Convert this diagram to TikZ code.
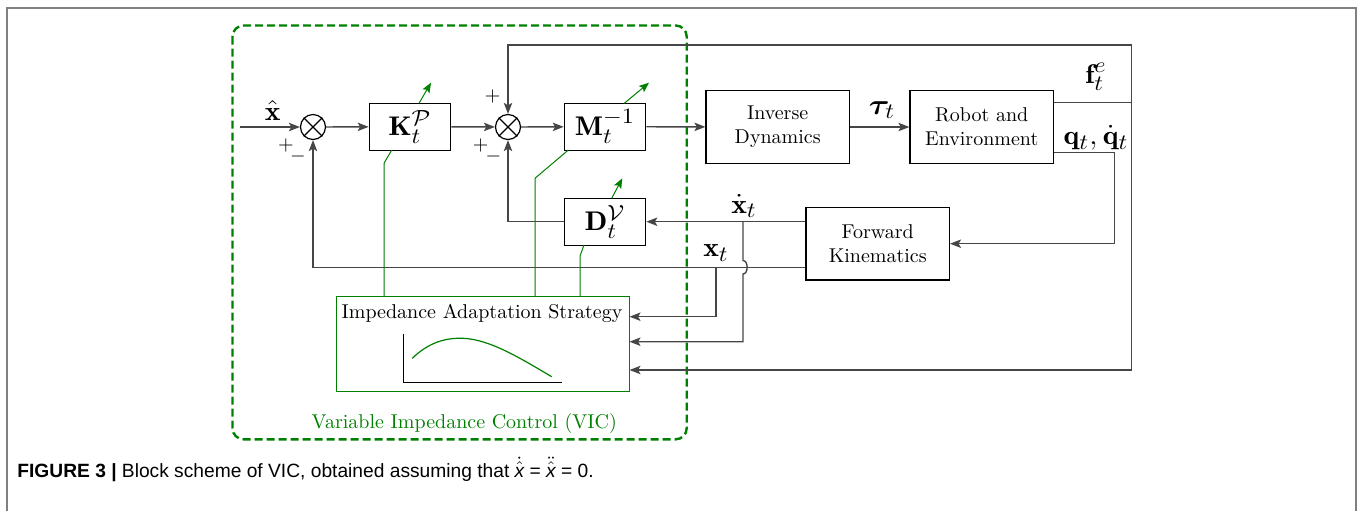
\documentclass[tikz,border=0pt]{standalone}
\usepackage{amsmath,bm,graphicx}
\usepackage{fontspec}
\newfontfamily\capfont{Liberation Sans}
\usetikzlibrary{arrows.meta,calc}
\definecolor{vgreen}{RGB}{0,128,0}
\definecolor{lgray}{RGB}{70,70,70}
\definecolor{framegray}{RGB}{128,128,128}
\DeclareMathSizes{13.5}{13.5}{10.5}{8}
\newcommand{\hstr}[1]{\scalebox{1.1}[1]{#1}}
\newcommand{\capx}{\text{\capfont\itshape x}}
\begin{document}
\begin{tikzpicture}[x=0.5pt,y=-0.5pt,
  blk/.style={draw=black, line width=0.6pt, inner sep=0pt, align=center, font=\fontsize{10}{12}\selectfont},
  mblk/.style={blk, font=\fontsize{13.5}{15}\selectfont},
  sumnode/.style={draw=black, circle, minimum size=12.5pt, inner sep=0pt, line width=0.6pt},
  conn/.style={draw=lgray, line width=0.7pt},
  arr/.style={conn, -{Stealth[length=5.5pt,width=4.2pt,inset=1.2pt]}},
  gline/.style={draw=vgreen, line width=0.5pt},
  garr/.style={gline, -{Stealth[length=5pt,width=4pt,inset=1pt]}},
  lbl/.style={inner sep=0pt, font=\fontsize{13.5}{15}\selectfont},
  sgn/.style={inner sep=0pt, font=\fontsize{10}{12}\selectfont},
  txt/.style={inner sep=0pt, font=\fontsize{10}{12}\selectfont}]
\useasboundingbox (0,0) rectangle (1360,511);
% frame
\draw[framegray, line width=1pt] (7.3,511) -- (7.3,8.3) -- (1356,8.3) -- (1356,511);
% VIC box
\draw[vgreen, line width=1.2pt, dash pattern=on 4pt off 2pt, rounded corners=5.5pt] (232.5,25.5) rectangle (686.7,439.3);
\node[txt, text=vgreen] (vic) at (464.3,423.3) {Variable Impedance Control (VIC)};
% blocks
\node[sumnode] (s1) at (313,127) {};
\node[sumnode] (s2) at (508,127) {};
\draw[line width=0.6pt] (s1.45) -- (s1.225) (s1.135) -- (s1.315);
\draw[line width=0.6pt] (s2.45) -- (s2.225) (s2.135) -- (s2.315);
\node[mblk, minimum width=40.7pt, minimum height=23.4pt] (K) at (410,126.7) {\hstr{$\mathbf{K}_t^{\mathcal{P}}$}};
\node[mblk, minimum width=40.7pt, minimum height=23.4pt] (M) at (605,126.7) {\hstr{$\mathbf{M}_t^{-1}$}};
\node[mblk, minimum width=40.7pt, minimum height=23.4pt] (D) at (605,221.7) {\hstr{$\mathbf{D}_t^{\mathcal{V}}$}};
\node[blk, minimum width=71.7pt, minimum height=36.3pt] (ID) at (777.7,127) {Inverse\\Dynamics};
\node[blk, minimum width=71.7pt, minimum height=36.3pt] (RE) at (981.7,127) {Robot and\\Environment};
\node[blk, minimum width=71.7pt, minimum height=36.3pt] (FK) at (877.7,243.7) {Forward\\Kinematics};
\node[blk, draw=vgreen, line width=0.5pt, minimum width=146.5pt, minimum height=47.9pt] (IAS) at (482.5,344) {};
\node[txt] (iast) at (482,313.3) {Impedance Adaptation Strategy};
% plot in IAS
\draw[black, line width=0.6pt] (403.7,334) -- (403.7,382.3) -- (562.3,382.3);
\draw[vgreen, line width=0.6pt] (412.3,358.3) .. controls (428,343) and (445,337.5) .. (463.3,338.3) .. controls (490,339.5) and (520,358) .. (551.7,376.7);
% coordinates
\coordinate (in) at (240,127);
\coordinate (cTL) at (508,45);
\coordinate (cTR) at (1131.7,45);
\coordinate (fy) at (1131.7,102.7);
\coordinate (cBR) at (1131.7,370);
\coordinate (qR) at (1114.3,152.3);
\coordinate (xd) at (743,221.7);
\coordinate (xl) at (716,267.3);
\coordinate (xb) at (716,316.7);
\coordinate (xdb) at (743,341.7);
% main chain
\draw[arr] (in) -- (s1);
\draw[arr] (s1) -- (K);
\draw[arr] (K) -- (s2);
\draw[arr] (s2) -- (M);
\draw[arr] (M) -- (ID);
\draw[arr] (ID) -- (RE);
% robot outputs
\draw[conn] (RE.east |- fy) -- (fy);
\draw[arr] (cTR) -- (cTL) -- (s2.north);
\draw[arr] (cTR) -- (cBR) -- (IAS.east |- cBR);
\draw[arr] (RE.east |- qR) -- (qR) -- (qR |- FK.east) -- (FK.east);
% feedback
\draw[arr] (FK.west |- D.east) -- (D.east);
\draw[arr] (FK.west |- xl) -- (s1 |- xl) -- (s1.south);
\draw[arr] (D.west) -- (s2 |- D.west) -- (s2.south);
\draw[arr] (xl) -- (xb) -- (IAS.east |- xb);
\draw[arr] (xd) -- (743,260.5) .. controls (748.5,260.5) and (748.5,274) .. (743,274) -- (xdb) -- (IAS.east |- xdb);
% green adaptation arrows
\coordinate (kA) at (431,82.7);
\coordinate (mA) at (649,82.7);
\coordinate (dA) at (622.3,178.3);
\draw[garr] (419,103.3) -- (kA);
\draw[garr] (624.3,103.3) -- (mA);
\draw[garr] (611.7,198.3) -- (dA);
\draw[gline] (391.7,150) -- (384,163.3) -- (384,296);
\draw[gline] (568.3,150) -- (535,178.3) -- (535,296);
\draw[gline] (584,245) -- (580,256) -- (580,296);
% labels
\node[lbl] (lxh) at (272.7,110) {\hstr{$\hat{\mathbf{x}}$}};
\node[sgn] (p1) at (286,145) {$+$};
\node[sgn] (m1) at (298,156.7) {$-$};
\node[sgn] (p2) at (492.7,96.7) {$+$};
\node[sgn] (p3) at (480.7,145) {$+$};
\node[sgn] (m2) at (493.3,156.7) {$-$};
\node[lbl] (ltau) at (882,110) {\hstr{$\boldsymbol{\tau}_t$}};
\node[lbl] (lf) at (1096,77) {\hstr{$\mathbf{f}_t^e$}};
\node[lbl] (lq) at (1096,138) {\hstr{$\mathbf{q}_t,\dot{\mathbf{q}}_t$}};
\node[lbl] (lxd) at (744,206) {\hstr{$\dot{\mathbf{x}}_t$}};
\node[lbl] (lx) at (716,253) {\hstr{$\mathbf{x}_t$}};
% caption
\node[anchor=base west, inner sep=0pt, font=\capfont\fontsize{9.6}{11}\selectfont, text=black] (cap) at (17,477) {\textbf{FIGURE 3 |} Block scheme of VIC, obtained assuming that $\dot{\hat{\capx}}$~=~$\ddot{\hat{\capx}}$~=~0.};
\end{tikzpicture}
\end{document}
